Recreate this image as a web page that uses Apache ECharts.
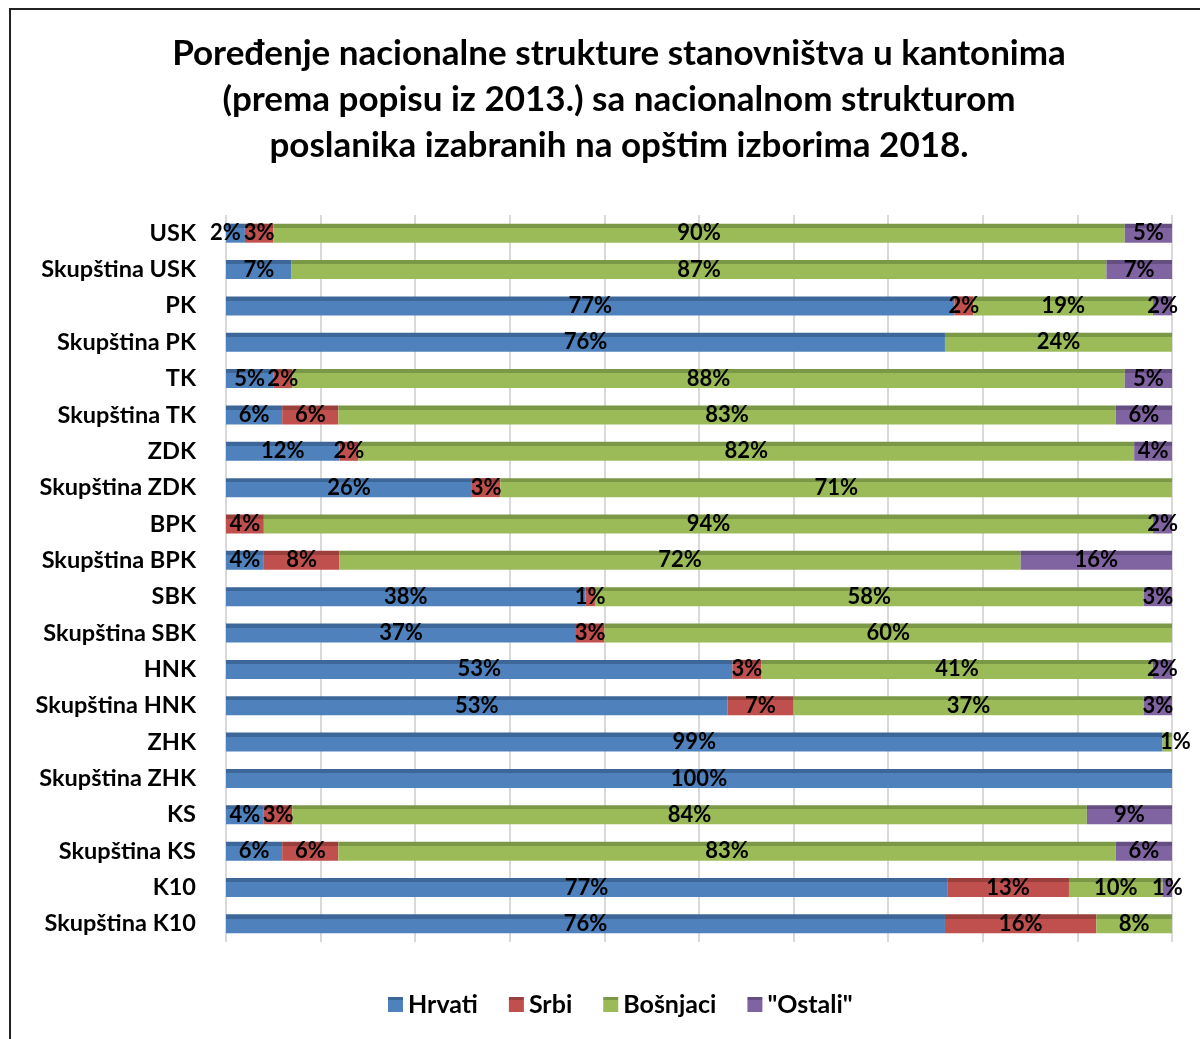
<!DOCTYPE html>
<html>
<head>
<meta charset="utf-8">
<script src="https://cdn.jsdelivr.net/npm/echarts@6/dist/echarts.min.js"></script>
<style>
  html, body { margin: 0; padding: 0; background: #fff; }
  #chart { width: 1200px; height: 1039px; }
</style>
</head>
<body>
<div id="chart"></div>
<script>
const categories = ['USK', 'Skupština USK', 'PK', 'Skupština PK', 'TK', 'Skupština TK', 'ZDK', 'Skupština ZDK',
  'BPK', 'Skupština BPK', 'SBK', 'Skupština SBK', 'HNK', 'Skupština HNK', 'ZHK', 'Skupština ZHK',
  'KS', 'Skupština KS', 'K10', 'Skupština K10']
const hrvati = [2, 7, 77, 76, 5, 6, 12, 26, 0, 4, 38, 37, 53, 53, 99, 100, 4, 6, 77, 76]
const srbi = [3, 0, 2, 0, 2, 6, 2, 3, 4, 8, 1, 3, 3, 7, 0, 0, 3, 6, 13, 16]
const bosnjaci = [90, 87, 19, 24, 88, 83, 82, 71, 94, 72, 58, 60, 41, 37, 1, 0, 84, 83, 10, 8]
const ostali = [5, 7, 2, 0, 5, 6, 4, 0, 2, 16, 3, 0, 2, 3, 0, 0, 9, 6, 1, 0]

const seriesNames = ['Hrvati', 'Srbi', 'Bošnjaci', '"Ostali"']
const seriesValues = [hrvati, srbi, bosnjaci, ostali]
const colors = ['#4F81BD', '#C0504D', '#9BBB59', '#8064A2']
const topColors = ['#3d6699', '#9b3f3c', '#7b9846', '#644e82']

const font = 'Lato, "Open Sans", sans-serif'

// row totals, so each bar fills 100%
const totals = categories.map((_, i) => seriesValues.reduce((s, arr) => s + arr[i], 0))

// a few labels Excel nudged sideways
const labelNudge = { '0-0': -10, '2-14': 8 }

const chart = echarts.init(document.getElementById('chart'))

chart.setOption({
  animation: false,
  title: {
    text: 'Poređenje nacionalne strukture stanovništva u kantonima\n(prema popisu iz 2013.) sa nacionalnom strukturom\nposlanika izabranih na opštim izborima 2018.',
    left: 614,
    top: 26,
    textAlign: 'center',
    textStyle: { fontFamily: font, fontWeight: 'bold', fontSize: 35, lineHeight: 46, color: '#000' }
  },
  legend: {
    bottom: 17,
    left: 383,
    itemWidth: 15,
    itemHeight: 15,
    itemGap: 31,
    icon: 'rect',
    textStyle: { fontFamily: font, fontWeight: 'bold', fontSize: 25, color: '#000' }
  },
  graphic: [{
    type: 'rect',
    shape: { x: 10, y: 9, width: 1250, height: 1100 },
    style: { fill: 'none', stroke: '#222', lineWidth: 2 },
    silent: true
  }],
  grid: { left: 226, right: 28, top: 215, bottom: 97 },
  xAxis: {
    type: 'value',
    min: 0,
    max: 100,
    interval: 10,
    axisLabel: { show: false },
    axisLine: { show: false },
    axisTick: { show: false },
    splitLine: { lineStyle: { color: '#d9d9d9', width: 2 } }
  },
  yAxis: {
    type: 'category',
    inverse: true,
    data: categories,
    axisLine: { show: false },
    axisTick: { show: false },
    axisLabel: { margin: 30, fontFamily: font, fontWeight: 'bold', fontSize: 23.5, color: '#000' }
  },
  series: seriesValues.map((arr, s) => ({
    name: seriesNames[s],
    type: 'bar',
    stack: 'total',
    barWidth: 19,
    itemStyle: {
      color: new echarts.graphic.LinearGradient(0, 0, 0, 1, [
        { offset: 0, color: topColors[s] },
        { offset: 0.22, color: topColors[s] },
        { offset: 0.22, color: colors[s] },
        { offset: 1, color: colors[s] }
      ])
    },
    data: arr.map((v, i) => {
      const item = { value: v / totals[i] * 100 }
      const nudge = labelNudge[s + '-' + i]
      if (nudge) item.label = { offset: [nudge, 0] }
      return item
    }),
    label: {
      show: true,
      position: 'inside',
      fontFamily: font,
      fontWeight: 'bold',
      fontSize: 22,
      color: '#000',
      formatter: (p) => (arr[p.dataIndex] > 0 ? arr[p.dataIndex] + '%' : '')
    }
  }))
})

window.addEventListener('resize', () => chart.resize())
</script>
</body>
</html>
